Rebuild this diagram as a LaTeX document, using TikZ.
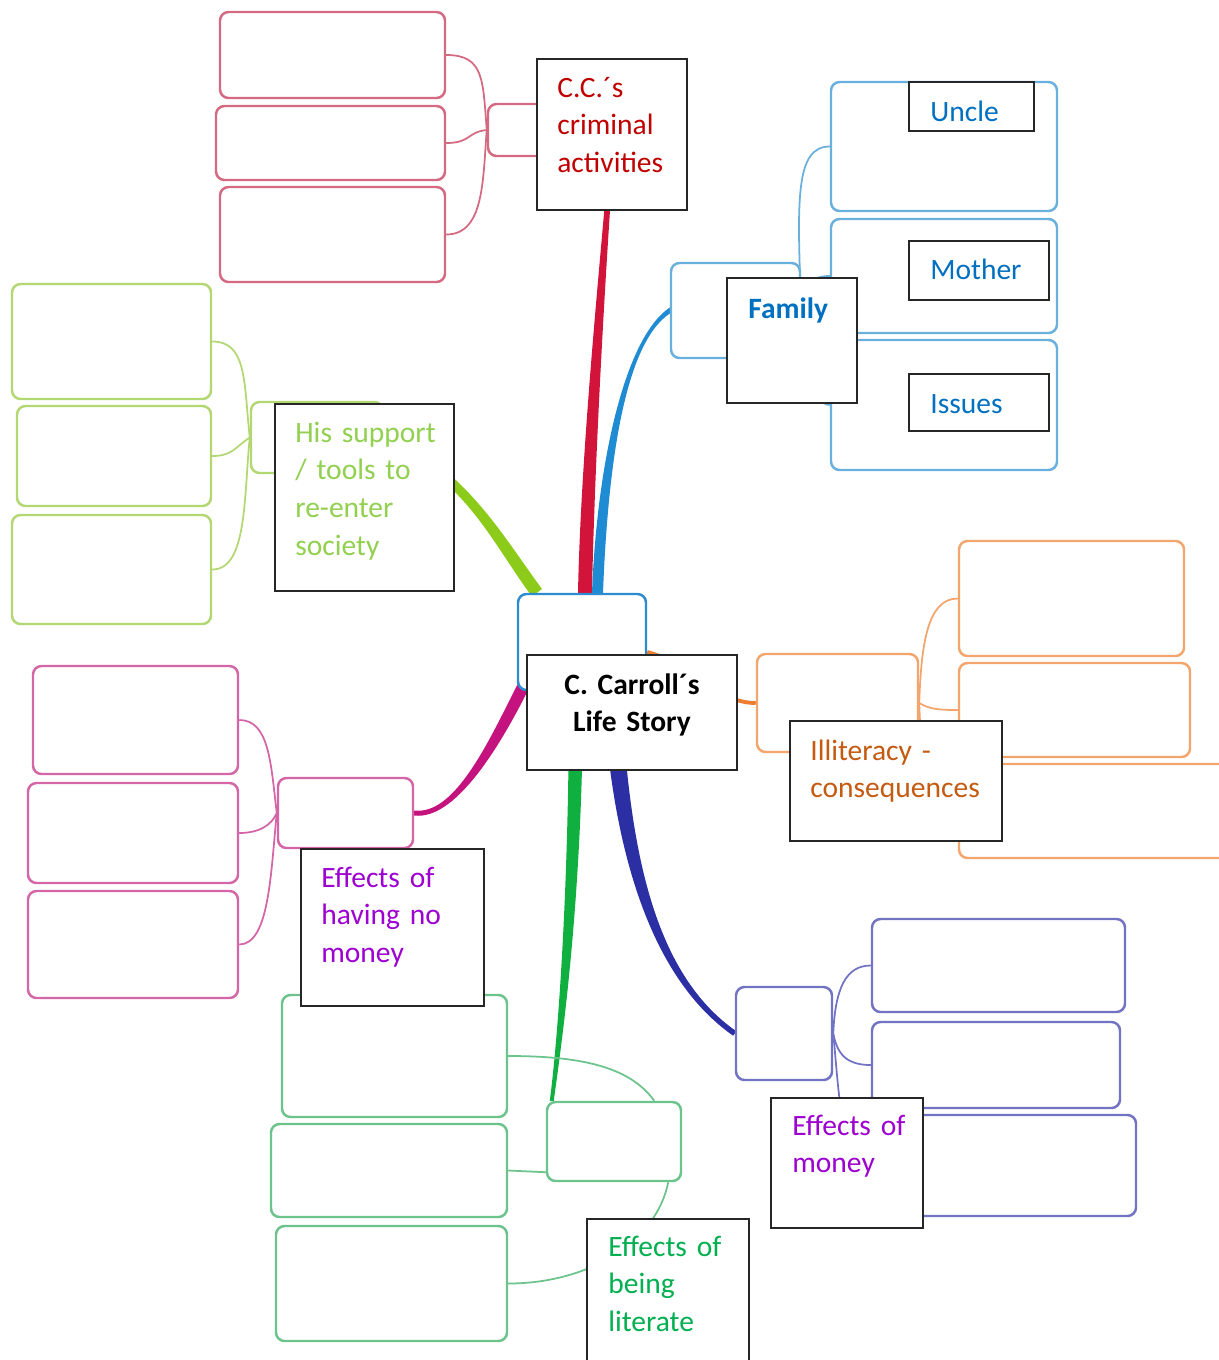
\documentclass[tikz,border=0pt]{standalone}
\usepackage{fontspec}
\setmainfont{Carlito}
\usetikzlibrary{fit,backgrounds}
\definecolor{crimeline}{HTML}{D2143A}
\definecolor{crimeedge}{HTML}{D46A82}
\definecolor{crimetext}{HTML}{C00000}
\definecolor{famline}{HTML}{1E8BD2}
\definecolor{famedge}{HTML}{6AB0DC}
\definecolor{famtext}{HTML}{0070C0}
\definecolor{coreedge}{HTML}{2E8BD0}
\definecolor{supline}{HTML}{8CCB1A}
\definecolor{supedge}{HTML}{B3D873}
\definecolor{suptext}{HTML}{92D050}
\definecolor{poorline}{HTML}{C4137E}
\definecolor{pooredge}{HTML}{D466A8}
\definecolor{moneytext}{HTML}{9D00D0}
\definecolor{illline}{HTML}{ED7D31}
\definecolor{illedge}{HTML}{F2A66E}
\definecolor{illtext}{HTML}{C55A11}
\definecolor{richline}{HTML}{2B2FA3}
\definecolor{richedge}{HTML}{7373C4}
\definecolor{litline}{HTML}{10B040}
\definecolor{litedge}{HTML}{6CC38C}
\definecolor{littext}{HTML}{00B050}
\newcommand\mapfont{\fontsize{16.8}{21.6}\selectfont}
\frenchspacing
\tikzset{
  twig/.style={draw=#1, line width=1.4pt, fill=white, rounded corners=0.17cm, inner sep=0pt},
  tag/.style={draw=black!85, line width=0.85pt, fill=white, inner sep=0pt},
  tagtext/.style={text=#1, font=\mapfont, anchor=base west, inner sep=0pt, text width=4cm, align=left},
  limb/.style={fill=#1},
  sprig/.style={draw=#1, line width=1pt}
}
\begin{document}
\begin{tikzpicture}[x=0.02cm,y=-0.02cm]
\useasboundingbox (0,0) rectangle (1218,1360);

\node[twig=crimeedge, fit={(220,12) (445,98)}] (crime1) {};
\node[twig=crimeedge, fit={(216,106) (445,180)}] (crime2) {};
\node[twig=crimeedge, fit={(220,187) (445,282)}] (crime3) {};
\node[twig=crimeedge, fit={(488,104) (612,156)}] (crimehub) {};

\node[twig=famedge, fit={(831,82) (1057,211)}] (fam1) {};
\node[twig=famedge, fit={(831,219) (1057,333)}] (fam2) {};
\node[twig=famedge, fit={(831,340) (1057,470)}] (fam3) {};
\node[twig=famedge, fit={(671,263) (800,358)}] (famhub) {};

\node[twig=supedge, fit={(12,284) (211,399)}] (sup1) {};
\node[twig=supedge, fit={(17,406) (211,506)}] (sup2) {};
\node[twig=supedge, fit={(12,515) (211,624)}] (sup3) {};
\node[twig=supedge, fit={(251,402) (383,473)}] (suphub) {};

\node[twig=pooredge, fit={(33,666) (238,774)}] (poor1) {};
\node[twig=pooredge, fit={(28,783) (238,883)}] (poor2) {};
\node[twig=pooredge, fit={(28,891) (238,998)}] (poor3) {};
\node[twig=pooredge, fit={(278,778) (413,848)}] (poorhub) {};

\node[twig=illedge, fit={(959,541) (1184,656)}] (ill1) {};
\node[twig=illedge, fit={(959,663) (1190,757)}] (ill2) {};
\node[twig=illedge, fit={(959,764) (1240,858)}] (ill3) {};
\node[twig=illedge, fit={(757,654) (918,752)}] (illhub) {};

\node[twig=richedge, fit={(872,919) (1125,1012)}] (rich1) {};
\node[twig=richedge, fit={(872,1022) (1120,1108)}] (rich2) {};
\node[twig=richedge, fit={(872,1115) (1136,1216)}] (rich3) {};
\node[twig=richedge, fit={(736,987) (832,1080)}] (richhub) {};

\node[twig=litedge, fit={(282,995) (507,1117)}] (lit1) {};
\node[twig=litedge, fit={(271,1124) (507,1217)}] (lit2) {};
\node[twig=litedge, fit={(276,1226) (507,1341)}] (lit3) {};
\node[twig=litedge, fit={(547,1102) (681,1181)}] (lithub) {};

\node[twig=coreedge, fit={(518,594) (646,690)}] (core) {};

\begin{pgfonlayer}{background}
\fill[limb=crimeline] ([shift={(-4,0)}]core.north) .. controls +(3,-150) and +(-6,80) .. ([shift={(-4.5,0)}]crimehub.south east)
  -- ([shift={(0.5,0)}]crimehub.south east) .. controls +(-6,80) and +(3,-150) .. ([shift={(10,0)}]core.north) -- cycle;
\fill[limb=famline] ([shift={(10,0)}]core.north) .. controls +(5,-130) and +(-45,30) .. ([shift={(0,-3)}]famhub.west)
  -- ([shift={(0,3)}]famhub.west) .. controls +(-45,30) and +(5,-130) .. ([shift={(21,0)}]core.north) -- cycle;
\fill[limb=supline] ([shift={(-50,3.8)}]core.north) .. controls +(-40,-54) and +(82,37) .. ([shift={(0,5.5)}]suphub.east)
  -- ([shift={(0,-5.5)}]suphub.east) .. controls +(82,37) and +(-40,-54) .. ([shift={(-40,-3.8)}]core.north) -- cycle;
\fill[limb=poorline] ([shift={(11.4,-1.3)}]core.south west) .. controls +(-30,60) and +(40,5) .. ([shift={(0,2.5)}]poorhub.east)
  -- ([shift={(0,-2.5)}]poorhub.east) .. controls +(40,5) and +(-30,60) .. ([shift={(0.6,-6.7)}]core.south west) -- cycle;
\draw[illline, line width=2.2pt] ([shift={(0,10)}]core.east) .. controls +(40,10) and +(-40,0) .. (illhub.west);
\fill[limb=richline] ([shift={(21,0)}]core.south) .. controls +(8,150) and +(-86,-60) .. ([shift={(-1.6,2.2)}]richhub.west)
  -- ([shift={(1.6,-2.2)}]richhub.west) .. controls +(-86,-60) and +(8,150) .. ([shift={(39,0)}]core.south) -- cycle;
\fill[limb=litline] ([shift={(-13,0)}]core.south) .. controls +(0,210) and +(7,-52) .. ([shift={(4,0)}]lithub.north west)
  -- ([shift={(8,0)}]lithub.north west) .. controls +(7,-52) and +(0,210) .. ([shift={(1,0)}]core.south) -- cycle;
\end{pgfonlayer}

\draw[sprig=crimeedge] (crimehub.west) .. controls +(-4,-50) and +(38,0) .. (crime1.east);
\draw[sprig=crimeedge] (crimehub.west) .. controls +(-20,2) and +(25,0) .. (crime2.east);
\draw[sprig=crimeedge] (crimehub.west) .. controls +(-4,50) and +(38,0) .. (crime3.east);

\draw[sprig=famedge] (famhub.east) .. controls +(-4,-110) and +(-35,0) .. (fam1.west);
\draw[sprig=famedge] (famhub.east) .. controls +(5,-25) and +(-20,0) .. (fam2.west);
\draw[sprig=famedge] (famhub.east) .. controls +(10,40) and +(-20,0) .. (fam3.west);

\draw[sprig=supedge] (suphub.west) .. controls +(-6,-55) and +(35,0) .. (sup1.east);
\draw[sprig=supedge] (suphub.west) .. controls +(-15,10) and +(20,0) .. (sup2.east);
\draw[sprig=supedge] (suphub.west) .. controls +(-6,60) and +(35,0) .. (sup3.east);

\draw[sprig=pooredge] (poorhub.west) .. controls +(-6,-50) and +(30,0) .. (poor1.east);
\draw[sprig=pooredge] (poorhub.west) .. controls +(-5,12) and +(20,0) .. (poor2.east);
\draw[sprig=pooredge] (poorhub.west) .. controls +(-6,60) and +(30,0) .. (poor3.east);

\draw[sprig=illedge] (illhub.east) .. controls +(2,-60) and +(-30,0) .. (ill1.west);
\draw[sprig=illedge] (illhub.east) .. controls +(10,6) and +(-20,0) .. (ill2.west);
\draw[sprig=illedge] (illhub.east) .. controls +(2,60) and +(-30,0) .. (ill3.west);

\draw[sprig=richedge] (richhub.east) .. controls +(2,-45) and +(-25,0) .. (rich1.west);
\draw[sprig=richedge] (richhub.east) .. controls +(4,20) and +(-25,0) .. (rich2.west);
\draw[sprig=richedge] (richhub.east) .. controls +(6,60) and +(-30,0) .. (rich3.west);

\draw[sprig=litedge] ([shift={(-28,0)}]lithub.north east) .. controls +(-25,-35) and +(70,0) .. (lit1.east);
\draw[sprig=litedge] ([shift={(0,-10)}]lithub.south west) -- (lit2.east);
\draw[sprig=litedge] ([shift={(-14,0)}]lithub.south east) .. controls +(-12,60) and +(80,0) .. (lit3.east);

\node[tag, fit={(537,59) (687,210)}] (crimelbl) {};
\node[tagtext=crimetext] (crimetxt) at (557,97) {C.C.´s\\criminal\\activities};

\node[tag, fit={(727,278) (857,403)}] (famlbl) {};
\node[tagtext=famtext, font=\mapfont\bfseries] (famtxt) at (748,318) {Family};
\node[tag, fit={(909,82) (1034,131)}] (unclelbl) {};
\node[tagtext=famtext] (uncletxt) at (930,121) {Uncle};
\node[tag, fit={(909,241) (1049,300)}] (motherlbl) {};
\node[tagtext=famtext] (mothertxt) at (930,279) {Mother};
\node[tag, fit={(909,374) (1049,431)}] (issueslbl) {};
\node[tagtext=famtext] (issuestxt) at (930,413) {Issues};

\node[tag, fit={(275,404) (454,591)}] (suplbl) {};
\node[tagtext=suptext] (suptxt) at (295,442) {His support\\/ tools to\\re-enter\\society};

\node[tag, fit={(527,655) (737,770)}] (storylbl) {};
\node[font=\mapfont\bfseries, anchor=base, inner sep=0pt, text width=4cm, align=center] (storytxt) at (632,694) {C. Carroll´s\\Life Story};

\node[tag, fit={(790,721) (1002,841)}] (illlbl) {};
\node[tagtext=illtext] (illtxt) at (810,760) {Illiteracy -\\consequences};

\node[tag, fit={(301,849) (484,1006)}] (poorlbl) {};
\node[tagtext=moneytext] (poortxt) at (321,887) {Effects of\\having no\\money};

\node[tag, fit={(771,1098) (923,1228)}] (richlbl) {};
\node[tagtext=moneytext] (richtxt) at (792,1135) {Effects of\\money};

\node[tag, fit={(587,1219) (749,1366)}] (litlbl) {};
\node[tagtext=littext] (littxt) at (608,1256) {Effects of\\being\\literate};
\end{tikzpicture}
\end{document}
